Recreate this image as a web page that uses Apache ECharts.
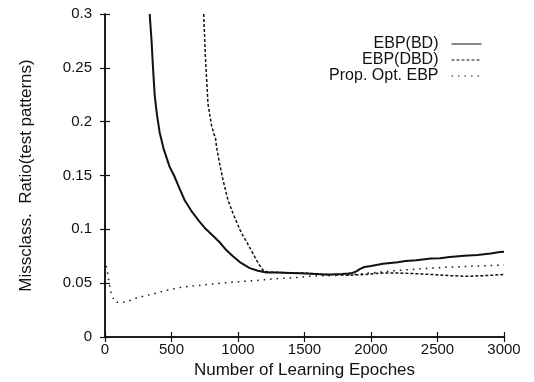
<!DOCTYPE html>
<html>
<head>
<meta charset="utf-8">
<script src="https://cdn.jsdelivr.net/npm/echarts@6/dist/echarts.min.js"></script>
<style>
  html, body { margin: 0; padding: 0; background: #fff; }
  #chart { width: 534px; height: 382px; }
</style>
</head>
<body>
<div id="chart"></div>
<script>
// tick values
var xTicks = [0, 500, 1000, 1500, 2000, 2500, 3000];
var yTicks = [0, 0.05, 0.1, 0.15, 0.2, 0.25, 0.3];

// EBP(BD)
var bdEpochs = [336, 350, 361, 374, 390, 411, 440, 486, 519, 560, 599, 650, 712, 760, 812, 862, 910, 962, 1020, 1088, 1150, 1214, 1300, 1400, 1464, 1550, 1650, 1714, 1780, 1830, 1860, 1890, 1915, 1950, 2000, 2090, 2200, 2260, 2341, 2450, 2520, 2592, 2700, 2800, 2900, 2968, 3000];
var bdValues = [0.300, 0.275, 0.250, 0.224, 0.207, 0.190, 0.175, 0.158, 0.150, 0.138, 0.127, 0.117, 0.107, 0.100, 0.094, 0.088, 0.081, 0.075, 0.069, 0.064, 0.0615, 0.060, 0.0598, 0.0595, 0.0593, 0.0588, 0.058, 0.0582, 0.0585, 0.059, 0.0595, 0.061, 0.063, 0.065, 0.066, 0.068, 0.0695, 0.0705, 0.0713, 0.0728, 0.0732, 0.0744, 0.0755, 0.0762, 0.0775, 0.079, 0.0792];

// EBP(DBD)
var dbdEpochs = [742, 755, 774, 800, 820, 830, 838, 860, 887, 925, 962, 1013, 1038, 1075, 1113, 1150, 1188, 1220, 1300, 1400, 1464, 1550, 1650, 1714, 1840, 1950, 2090, 2200, 2300, 2464, 2600, 2717, 2850, 3000];
var dbdValues = [0.300, 0.260, 0.217, 0.197, 0.188, 0.186, 0.177, 0.162, 0.146, 0.127, 0.115, 0.100, 0.094, 0.086, 0.0775, 0.069, 0.062, 0.0605, 0.060, 0.0595, 0.0595, 0.059, 0.058, 0.0578, 0.0574, 0.058, 0.0595, 0.0595, 0.059, 0.058, 0.057, 0.0564, 0.057, 0.058];

// Prop. Opt. EBP
var optEpochs = [10, 23, 30, 48, 73, 110, 161, 210, 261, 360, 462, 586, 712, 838, 960, 1088, 1214, 1263, 1414, 1550, 1700, 1850, 2000, 2216, 2400, 2592, 2800, 3000];
var optValues = [0.066, 0.057, 0.051, 0.040, 0.0326, 0.032, 0.0326, 0.035, 0.037, 0.040, 0.0434, 0.0465, 0.048, 0.0496, 0.051, 0.052, 0.0533, 0.054, 0.055, 0.0565, 0.057, 0.058, 0.0595, 0.062, 0.0635, 0.065, 0.066, 0.0668];

function pairs(xs, ys) {
  return xs.map(function(x, i) { return [x, ys[i]]; });
}

var font = "'Liberation Sans', Arial, Helvetica, sans-serif";
var ink = "#111";

function axisBase(showLabels, extra) {
  var a = {
    type: "value",
    axisLine: { show: true, lineStyle: { color: ink, width: 1.5 } },
    axisTick: { show: true, inside: true, length: 5, lineStyle: { color: ink, width: 1.2 } },
    axisLabel: {
      show: showLabels, color: ink, fontFamily: font, fontSize: 15,
      formatter: function(v) { return String(v); }
    },
    splitLine: { show: false }
  };
  for (var k in extra) a[k] = extra[k];
  return a;
}

var xMin = xTicks[0], xMax = xTicks[xTicks.length - 1], xStep = xTicks[1] - xTicks[0];
var yMin = yTicks[0], yMax = yTicks[yTicks.length - 1], yStep = yTicks[1] - yTicks[0];

var chart = echarts.init(document.getElementById("chart"));
var xMain = axisBase(true, {
  min: xMin, max: xMax, interval: xStep,
  name: "Number of Learning Epoches",
  nameLocation: "middle",
  nameGap: 14,
  nameTextStyle: { color: ink, fontFamily: font, fontSize: 17 }
});
xMain.axisLabel.margin = 5;
var yMain = axisBase(true, {
  min: yMin, max: yMax, interval: yStep,
  name: "Missclass.  Ratio(test patterns)",
  nameLocation: "middle",
  nameGap: 70,
  nameTextStyle: { color: ink, fontFamily: font, fontSize: 17 }
});
yMain.axisLabel.margin = 13;

chart.setOption({
  animation: false,
  backgroundColor: "#fff",
  grid: { left: 105, right: 30, top: 14, bottom: 45, outerBoundsMode: "none" },
  legend: {
    orient: "vertical",
    right: 47,
    top: 31,
    align: "right",
    itemWidth: 30,
    itemHeight: 10,
    itemGap: 0,
    itemStyle: { opacity: 0 },
    lineStyle: { width: 1 },
    textStyle: { color: ink, fontFamily: font, fontSize: 16, padding: [0, 8, 0, 0] },
    data: ["EBP(BD)", "EBP(DBD)", "Prop. Opt. EBP"]
  },
  xAxis: [
    xMain,
    axisBase(false, { position: "top", min: xMin, max: xMax, interval: xStep })
  ],
  yAxis: [
    yMain,
    axisBase(false, { position: "right", min: yMin, max: yMax, interval: yStep })
  ],
  series: [
    {
      name: "EBP(BD)",
      type: "line",
      showSymbol: false,
      symbol: "none",
      color: ink,
      lineStyle: { color: ink, width: 2 },
      data: pairs(bdEpochs, bdValues)
    },
    {
      name: "EBP(DBD)",
      type: "line",
      showSymbol: false,
      symbol: "none",
      color: ink,
      lineStyle: { color: ink, width: 1.5, type: [3, 2] },
      data: pairs(dbdEpochs, dbdValues)
    },
    {
      name: "Prop. Opt. EBP",
      type: "line",
      showSymbol: false,
      symbol: "none",
      color: ink,
      lineStyle: { color: ink, width: 1.5, type: [1.5, 5] },
      data: pairs(optEpochs, optValues)
    }
  ]
});
</script>
</body>
</html>
